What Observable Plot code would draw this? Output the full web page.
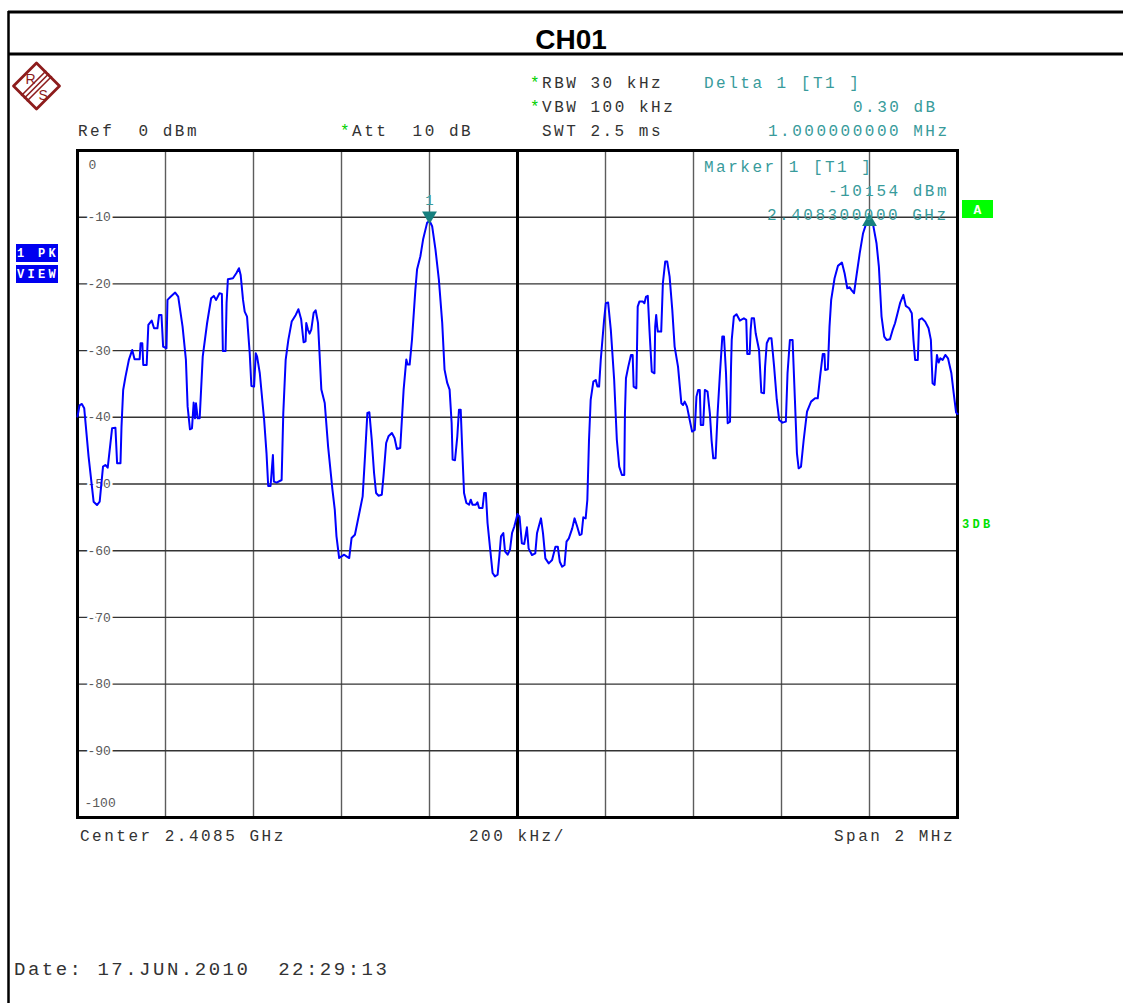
<!DOCTYPE html>
<html><head><meta charset="utf-8">
<script src="https://cdn.jsdelivr.net/npm/d3@7"></script>
<script src="https://cdn.jsdelivr.net/npm/@observablehq/plot@0.6"></script>
<style>
html,body{margin:0;padding:0;background:#fff;overflow:hidden;}
#wrap{position:relative;width:1123px;height:1003px;background:#fff;}
#wrap svg{position:absolute;left:0;top:0;}
</style></head><body><div id="wrap"></div>
<script>
// ---- data (frequency offset from 2.4075 GHz in kHz, level in dBm) ----
const spanStartGHz = 2.4075;
const xGridKHz = [200, 400, 600, 800, 1200, 1400, 1600, 1800];
const centerKHz = [1000];
const yGridDbm = [-10, -20, -30, -40, -50, -60, -70, -80, -90];
const yTickValues = [-10, -20, -30, -40, -50, -60, -70, -80, -90];
const yTickLabels = ["-10", "-20", "-30", "-40", "-50", "-60", "-70", "-80", "-90"];
const yTopLabel = ["0"];
const yBottomLabel = ["-100"];
const markerKHz = [800, 1800];
const markerDbm = [-10.54, -10.24];
const markerNames = ["1", "1"];
const trace = [
[0,-39.9],[4.6,-38.2],[9.9,-38],[15.3,-38.65],[25.2,-45.9],[36.6,-52.65],[44.3,-53.15],[50.4,-52.65],[58,-47.4],[63.3,-47.15],[68.7,-47.55],[78.6,-41.65],[86.2,-41.55],[90,-46.9],[97.7,-46.9],[100,-41.4],[103.8,-35.9],[109.1,-33.9],[116.7,-31.4],[124.4,-29.9],[129.7,-31.3],[141.2,-31.3],[143.4,-28.9],[147.3,-28.9],[149.5,-32.15],[157.2,-32.15],[161,-26.15],[168.6,-25.5],[174,-26.65],[181.6,-26.65],[185.4,-24.65],[190.8,-24.65],[194.6,-29.4],[202.2,-29.65],[204.5,-22.4],[212.1,-21.9],[222,-21.3],[228.9,-21.9],[238.8,-26.4],[246.4,-31.4],[250.3,-38.4],[255.6,-41.8],[260.2,-41.65],[264,-37.8],[267.1,-40.15],[269.3,-37.9],[273.2,-40.15],[277.7,-40.15],[284.6,-30.9],[294.5,-25.9],[303.7,-22.15],[309.8,-21.8],[315.1,-22.4],[322.7,-21.4],[328.1,-21.5],[330.4,-30.05],[336.5,-30.05],[338.8,-22.9],[341.8,-19.3],[353.3,-19.15],[360.9,-18.4],[367,-17.65],[370.8,-18.65],[376.2,-22.4],[380,-24.15],[385.3,-24.9],[391.4,-30.4],[395.2,-35.3],[401.3,-35.4],[405.2,-30.4],[408.2,-30.9],[414.3,-33.4],[424.2,-40.4],[429.6,-45.4],[433.4,-50.3],[438.7,-50.3],[441,-48.4],[444.1,-45.65],[446.4,-49.65],[452.5,-49.8],[463.9,-49.4],[467.7,-39.4],[473.1,-31.4],[479.2,-28.4],[486.8,-25.65],[496,-24.65],[502.1,-23.8],
[508.4,-25.35],[513.8,-28.75],[518.4,-28.6],[519.9,-25.85],[523.7,-26.85],[527.5,-27.45],[531.3,-26.85],[536.7,-24.35],[541.2,-23.95],[546.6,-25.85],[554.2,-35.85],[561.9,-37.85],[569.5,-44.35],[579.4,-50.85],[584.7,-53.85],[588.6,-57.85],[594.7,-61.1],[600,-60.85],[606.1,-60.6],[611.4,-60.85],[617.5,-61.1],[622.9,-58.1],[630.5,-57.6],[642,-53.85],[648.1,-51.85],[653.4,-45.85],[658.8,-39.35],[663.3,-39.25],[668.7,-43.35],[674,-48.35],[678.6,-51.35],[683.9,-51.75],[691.6,-51.6],[695.4,-48.85],[701.5,-43.85],[706.8,-42.85],[714.5,-42.35],[720.6,-43.1],[725.9,-44.75],[733.5,-44.6],[741.2,-35.85],[747.3,-31.35],[750.3,-32.1],[754.9,-32.1],[760.2,-28.35],[767.9,-20.85],[771.7,-17.85],[779.3,-15.85],[785.4,-13.35],[794.5,-10.85],[800,-10.54],[806,-11.35],[813.6,-14.85],[821.3,-19.35],[828.9,-25.85],[834.2,-32.85],[840.3,-34.85],[845.7,-35.85],[850.3,-40.85],[852.6,-46.35],[857.9,-46.45],[863.2,-42.85],[867,-38.85],[870.9,-38.85],[874.7,-45.35],[878.5,-51.35],[883.8,-52.85],[890,-53.1],[893.8,-52.35],[897.6,-53.1],[905.2,-53.1],[909,-52.75],[912.8,-53.6],[920.5,-53.6],[924.3,-51.35],[928.1,-51.35],[931.9,-55.85],[938,-59.85],[943.4,-63.35],[948.7,-63.85],[954.8,-63.6],[958.7,-60.85],[962.5,-57.85],[967.8,-57.35],[971.6,-60.1],[977.7,-60.6],[983,-59.85],[987.6,-57.35],[992.9,-56.35],
[1000,-54.5],[1004.6,-54.9],[1009.9,-58.9],[1015.3,-59],[1021.4,-56.5],[1025.2,-59.65],[1032.8,-60.65],[1040.4,-60.4],[1044.3,-57.4],[1053.4,-55.15],[1058,-57.4],[1063.3,-61.15],[1071,-61.9],[1078.6,-61.4],[1086.2,-59.4],[1091.6,-59.4],[1096.1,-61.65],[1101.5,-62.4],[1106.8,-62.15],[1111.4,-58.65],[1116.7,-58.15],[1124.4,-56.65],[1129.7,-55.15],[1135.8,-56.4],[1141.2,-57.65],[1145.7,-57.5],[1149.5,-55],[1154.9,-55.15],[1158.7,-52.4],[1162.5,-43.4],[1166.3,-37.4],[1172.4,-34.65],[1177.8,-34.4],[1181.6,-35.4],[1185.4,-35.4],[1189.2,-31.4],[1196.8,-25.4],[1200.7,-22.9],[1206,-22.8],[1212.1,-26.9],[1219.7,-34.4],[1225.8,-43.4],[1231.2,-47.4],[1237.3,-48.65],[1242.6,-48.65],[1244.2,-39.4],[1246.5,-34.15],[1251.8,-32.4],[1257.9,-30.65],[1261.7,-30.65],[1264,-35.4],[1270.1,-35.65],[1273.2,-23.4],[1277,-22.65],[1284.6,-22.65],[1288.4,-22.9],[1292.2,-21.9],[1296.1,-21.8],[1299.9,-26.9],[1305.2,-33.15],[1311.3,-33.4],[1312.9,-26.4],[1315.2,-24.65],[1317.5,-26.4],[1319,-27.15],[1326.6,-27.15],[1330.4,-19.9],[1335.7,-16.65],[1340.3,-16.65],[1345.7,-18.9],[1351.8,-23.9],[1357.1,-29.4],[1364.8,-32.4],[1372.4,-37.9],[1376.2,-38.15],[1380,-37.65],[1385.3,-38.4],[1391.4,-40.4],[1396.8,-42.15],[1402.9,-41.9],[1406.7,-36.9],[1410.5,-35.9],[1414.3,-35.9],[1416.6,-41.15],[1422,-41.15],[1425.8,-35.9],[1431.9,-36.15],[1437.2,-39.4],[1441,-43.4],[1444.9,-46.15],[1450.2,-46.15],[1454.8,-39.4],[1460.1,-33.4],[1465.5,-27.9],[1469.3,-27.9],[1473.9,-33.4],[1477.7,-40.9],[1483,-40.65],[1485.3,-32.4],[1486.9,-28.4],
[1491.7,-24.9],[1497.8,-24.55],[1505.4,-25.5],[1514.5,-25.15],[1519.9,-25.4],[1522.2,-30.5],[1527.6,-30.5],[1529.9,-26.9],[1532.2,-25.15],[1537.5,-25.15],[1541.3,-27.4],[1549,-29.9],[1554.2,-36.3],[1560.3,-36.4],[1562.7,-32.4],[1566.5,-28.9],[1571.8,-28.15],[1577.2,-28.15],[1583.2,-32.4],[1589.3,-37.4],[1594.7,-40.4],[1602.3,-40.8],[1609.9,-40.65],[1613.7,-33.4],[1619.1,-28.4],[1625.2,-28.4],[1630.5,-37.4],[1635.1,-45.4],[1639,-47.65],[1644.3,-47.4],[1650.4,-43.4],[1658,-39.15],[1667.2,-37.65],[1676.3,-37.15],[1682.4,-37.15],[1687.7,-33.9],[1693.8,-30.5],[1697.7,-30.5],[1699.2,-32.9],[1705.3,-32.8],[1709.1,-26.4],[1712.9,-22.4],[1720.6,-19.15],[1728.2,-17.3],[1737.3,-16.8],[1743.4,-18.4],[1749.5,-20.65],[1754.9,-20.5],[1758.7,-20.9],[1764.8,-21.4],[1770.1,-18.9],[1777.8,-15.4],[1785.4,-12.4],[1791.5,-11.15],[1800,-10.24],[1808.3,-11.15],[1815.9,-13.9],[1821.3,-17.4],[1827.4,-24.9],[1833.5,-27.9],[1838.8,-28.4],[1846.5,-28.3],[1852.6,-26.9],[1858,-25.9],[1865.6,-23.9],[1869.4,-22.9],[1877,-21.65],[1882.4,-23.3],[1890,-23.65],[1896.1,-24.4],[1899.9,-28.4],[1903.7,-31.4],[1909.8,-31.4],[1912.9,-25.4],[1919,-25.15],[1926.6,-25.65],[1934.2,-26.65],[1939.5,-28.4],[1943.3,-34.9],[1947.9,-35.15],[1953.3,-30.65],[1957.1,-31.8],[1960.9,-31.15],[1966.2,-31.4],[1972.3,-30.65],[1978.4,-31.15],[1986.1,-33.4],[1991.4,-36.4],[1996.8,-39.3],[2000,-39.5]
];

// ---- styles ----
const mono = "'Liberation Mono','DejaVu Sans Mono',monospace";
const teal = "#389b9b";
const markerTeal = "#17807f";

const traceData = trace.map(([f, db]) => ({f, db}));
const markers = markerKHz.map((f, i) => ({f, db: markerDbm[i], name: markerNames[i]}));
const midTicks = yTickValues.map((v, i) => ({v, label: yTickLabels[i]}));

const chart = Plot.plot({
  width: 1123, height: 1003,
  marginLeft: 77, marginRight: 166, marginTop: 150, marginBottom: 186,
  x: {domain: [0, 2000], axis: null},
  y: {domain: [-100, 0], axis: null},
  style: {background: "transparent", fontFamily: mono},
  marks: [
    Plot.ruleX(xGridKHz, {stroke: "#5c5c5c", strokeWidth: 1.4}),
    Plot.ruleY(yGridDbm, {stroke: "#333", strokeWidth: 1.4}),
    Plot.text(midTicks, {x: () => 0, y: "v", text: "label", dx: 10, textAnchor: "start",
      fill: "#5a5a5a", fontSize: 13, stroke: "white", strokeWidth: 5, paintOrder: "stroke",
      style: "letter-spacing:2.2px"}),
    Plot.text(yTopLabel, {x: () => 0, y: () => 0, text: d => d, dx: 11, dy: 14, textAnchor: "start",
      fill: "#5a5a5a", fontSize: 13}),
    Plot.text(yBottomLabel, {x: () => 0, y: () => -100, text: d => d, dx: 7, dy: -15, textAnchor: "start",
      fill: "#5a5a5a", fontSize: 13}),
    Plot.ruleX(centerKHz, {stroke: "#000", strokeWidth: 3}),
    Plot.frame({stroke: "#000", strokeWidth: 3}),
    Plot.line(traceData, {x: "f", y: "db", stroke: "#0000ff", strokeWidth: 2}),
    Plot.dot(markers.slice(0, 1), {x: "f", y: "db", symbol: "triangle", r: 5.5, fill: markerTeal, rotate: 180, dy: -5}),
    Plot.dot(markers.slice(1), {x: "f", y: "db", symbol: "triangle", r: 5.5, fill: markerTeal, dy: 3}),
    Plot.text(markers.slice(0, 1), {x: "f", y: "db", text: "name", dy: -20, fill: teal, fontSize: 14}),
    Plot.text(markers.slice(1), {x: "f", y: "db", text: "name", dy: -27, fill: teal, fontSize: 14})
  ]
});
document.getElementById("wrap").appendChild(chart);

// ---- annotation overlay (header, footer, instrument labels) ----
const svg = d3.select("#wrap").append("svg").attr("width", 1123).attr("height", 1003)
  .style("pointer-events", "none");
const nb = s => s.replace(/ /g, "\u00A0");
function txt(x, y, s, o = {}) {
  const t = svg.append("text").attr("x", x).attr("y", y)
    .attr("font-family", o.family || mono).attr("font-size", o.size || 16)
    .attr("fill", o.fill || "#333").attr("font-weight", o.weight || "normal")
    .attr("text-anchor", o.anchor || "start")
    .style("letter-spacing", (o.ls === undefined ? 2.5 : o.ls) + "px");
  if (o.star) {
    t.append("tspan").attr("fill", "#00d000").text("*");
    t.append("tspan").text(nb(s));
  } else t.text(nb(s));
  return t;
}

// borders
svg.append("line").attr("x1", 8).attr("x2", 1123).attr("y1", 12).attr("y2", 12).attr("stroke", "#000").attr("stroke-width", 3);
svg.append("line").attr("x1", 8).attr("x2", 1123).attr("y1", 54).attr("y2", 54).attr("stroke", "#000").attr("stroke-width", 3);
svg.append("line").attr("x1", 8.5).attr("x2", 8.5).attr("y1", 11).attr("y2", 1003).attr("stroke", "#000").attr("stroke-width", 2.5);

// title
txt(571, 49, "CH01", {family: "'Liberation Sans',Arial,sans-serif", size: 28, weight: "bold", anchor: "middle", fill: "#000", ls: 0});

// R&S logo
const logo = svg.append("g").attr("transform", "translate(36.5,86)");
const red = "#8d1c1c";
logo.append("path").attr("d", "M0,-23L23,0L0,23L-23,0Z").attr("fill", "white").attr("stroke", red).attr("stroke-width", 2.8).attr("stroke-linejoin", "round");
[-2.8, 0, 2.8].forEach(o => {
  logo.append("line").attr("x1", 12.5 + o).attr("y1", -12.5 + o).attr("x2", -12.5 + o).attr("y2", 12.5 + o)
    .attr("stroke", red).attr("stroke-width", 1.6);
});
logo.append("text").attr("x", -11).attr("y", -2).attr("font-family", "'Liberation Sans',Arial,sans-serif").attr("font-size", 14).attr("fill", red).text("R");
logo.append("text").attr("x", 2).attr("y", 14).attr("font-family", "'Liberation Sans',Arial,sans-serif").attr("font-size", 14).attr("fill", red).text("S");

// header
txt(530, 88, "RBW 30 kHz", {star: true});
txt(530, 112, "VBW 100 kHz", {star: true});
txt(78, 136, "Ref  0 dBm");
txt(340, 136, "Att  10 dB", {star: true});
txt(542, 136, "SWT 2.5 ms");
txt(704, 88, "Delta 1 [T1 ]", {fill: teal});
txt(853, 112, "0.30 dB", {fill: teal});
txt(768, 136, "1.000000000 MHz", {fill: teal});
txt(704, 172, "Marker 1 [T1 ]", {fill: teal});
txt(828, 196, "-10.54 dBm", {fill: teal});
txt(767, 220, "2.408300000 GHz", {fill: teal});

// side labels
svg.append("rect").attr("x", 16).attr("y", 244).attr("width", 42).attr("height", 18).attr("fill", "#0000f0");
svg.append("rect").attr("x", 16).attr("y", 265).attr("width", 42).attr("height", 18).attr("fill", "#0000f0");
txt(17, 257, "1 PK", {fill: "#fff", weight: "bold", size: 12, ls: 3.3});
txt(17, 278, "VIEW", {fill: "#fff", weight: "bold", size: 12, ls: 3.3});
svg.append("rect").attr("x", 962).attr("y", 200).attr("width", 31).attr("height", 18).attr("fill", "#00ff00");
txt(977.5, 214, "A", {fill: "#fff", weight: "bold", size: 13, anchor: "middle", ls: 0});
txt(962, 528, "3DB", {fill: "#00e000", weight: "bold", size: 12, ls: 3.3});

// footer
txt(80, 841, "Center 2.4085 GHz");
txt(469, 841, "200 kHz/");
txt(834, 841, "Span 2 MHz");
txt(14, 975, "Date: 17.JUN.2010  22:29:13", {size: 19, ls: 2.5});
</script></body></html>
